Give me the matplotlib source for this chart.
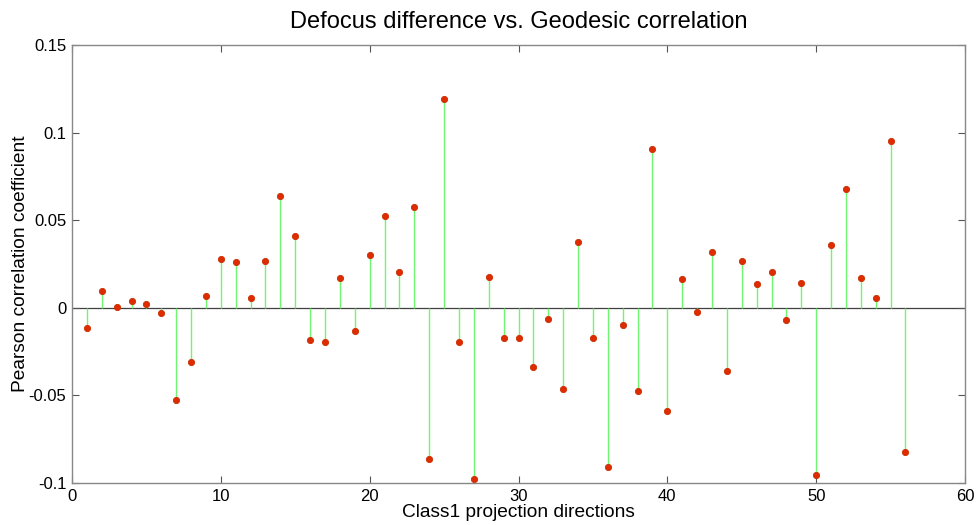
import matplotlib
matplotlib.use("Agg")
import matplotlib.pyplot as plt
import numpy as np

# Pearson correlation per projection direction
directions = list(range(1, 57))
correlation = [
    -0.0114, 0.0095, 0.0004, 0.0038, 0.0021, -0.0032, -0.0526, -0.0312,
    0.0069, 0.0278, 0.0261, 0.0055, 0.0265, 0.0638, 0.0411, -0.0183,
    -0.0196, 0.0168, -0.0135, 0.0301, 0.0522, 0.0202, 0.0573, -0.0865,
    0.1190, -0.0196, -0.0975, 0.0175, -0.0171, -0.0175, -0.0337, -0.0063,
    -0.0461, 0.0373, -0.0171, -0.0910, -0.0099, -0.0474, 0.0909, -0.0587,
    0.0162, -0.0025, 0.0318, -0.0360, 0.0265, 0.0133, 0.0202, -0.0069,
    0.0141, -0.0954, 0.0356, 0.0680, 0.0170, 0.0055, 0.0954, -0.0825,
]
x_ticks = [0, 10, 20, 30, 40, 50, 60]
y_ticks = [-0.1, -0.05, 0, 0.05, 0.1, 0.15]
y_tick_labels = ["-0.1", "-0.05", "0", "0.05", "0.1", "0.15"]

plt.rcParams["font.family"] = ["Liberation Sans", "DejaVu Sans"]

fig = plt.figure(figsize=(9.76, 5.25), dpi=100)
ax = fig.add_axes([72 / 976, 1 - 483 / 525, (965 - 72) / 976, (483 - 45) / 525])

ax.axhline(0, color="#404040", lw=0.9, zorder=1)
ax.vlines(directions, 0, correlation, color="#6ff56f", lw=1.0, zorder=2)
ax.plot(directions, correlation, "o", ms=4.5, mfc="#e02a00", mec="#c83000",
        mew=0.6, ls="none", zorder=3)

ax.set_xlim(0, 60)
ax.set_ylim(-0.1, 0.15)
ax.set_xticks(x_ticks)
ax.set_yticks(y_ticks)
ax.set_yticklabels(y_tick_labels)
ax.tick_params(direction="in", length=5, width=0.8, color="#555555",
               labelsize=12, top=True, right=True, pad=4)
for s in ax.spines.values():
    s.set_color("#888888")
    s.set_linewidth(1.0)

ax.set_title("Defocus difference vs. Geodesic correlation", fontsize=17, pad=12)
ax.set_xlabel("Class1 projection directions", fontsize=13.8, labelpad=0)
ax.set_ylabel("Pearson correlation coefficient", fontsize=13.8)
ax.yaxis.set_label_coords(-0.048, 0.5)

fig.savefig("out.png", dpi=100, facecolor="white")
